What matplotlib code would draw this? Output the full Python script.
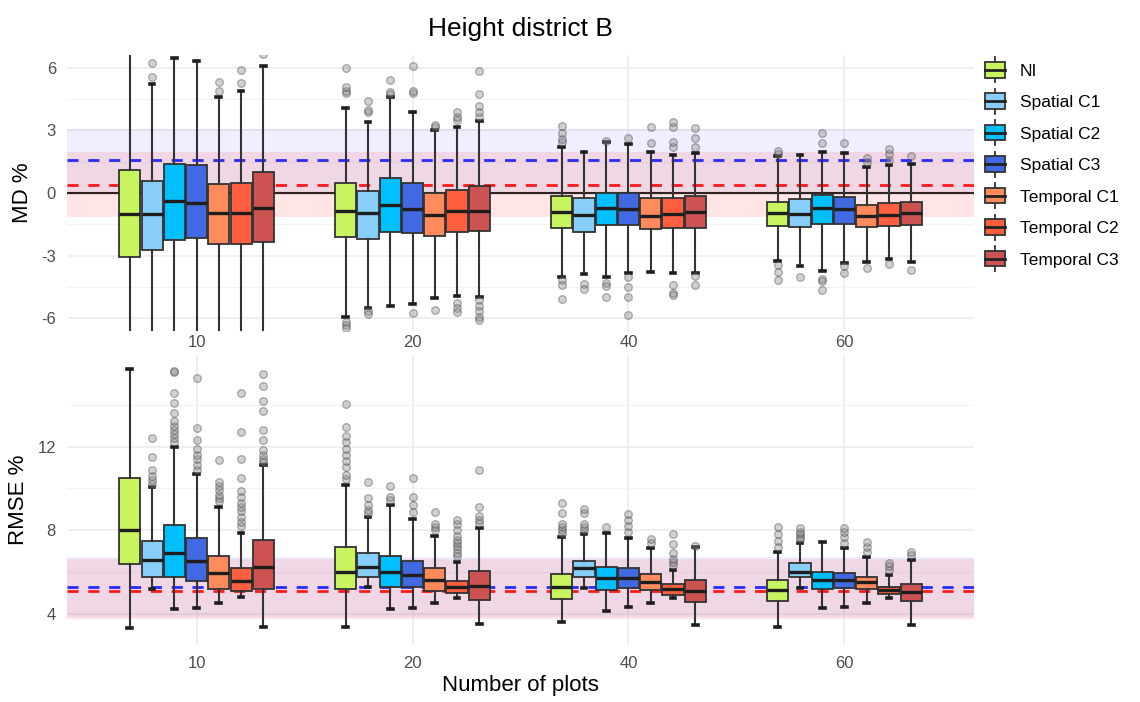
import matplotlib.pyplot as plt
from matplotlib.legend_handler import HandlerBase
from matplotlib.patches import Rectangle, Patch
from matplotlib.lines import Line2D

plt.rcParams['font.family'] = ['Liberation Sans', 'DejaVu Sans']
plt.rcParams['axes.unicode_minus'] = False

groups = ["10", "20", "40", "60"]
methods = ["NI", "Spatial C1", "Spatial C2", "Spatial C3",
           "Temporal C1", "Temporal C2", "Temporal C3"]
colors = ["#C8F55F", "#87CEFA", "#00BFFF", "#4169E1",
          "#FF8A5B", "#FF5F3F", "#CD5352"]

# ---- MD % (top panel): one row per group, one value per method
md_q3 = [[1.1, 0.57, 1.39, 1.34, 0.43, 0.48, 1.0],
         [0.48, 0.1, 0.72, 0.48, 0.0, 0.14, 0.33],
         [-0.14, -0.24, 0.0, 0.0, -0.24, -0.24, -0.14],
         [-0.43, -0.29, -0.1, -0.19, -0.57, -0.48, -0.43]]
md_med = [[-1.0, -1.0, -0.38, -0.48, -0.96, -0.96, -0.72],
          [-0.86, -0.96, -0.57, -0.77, -1.05, -0.86, -0.86],
          [-0.9, -1.05, -0.72, -0.77, -1.1, -1.0, -0.9],
          [-0.96, -1.0, -0.72, -0.77, -1.1, -1.05, -0.96]]
md_q1 = [[-3.06, -2.73, -2.25, -2.15, -2.44, -2.44, -2.34],
         [-2.1, -2.2, -1.87, -1.9, -2.06, -1.87, -1.82],
         [-1.67, -1.87, -1.53, -1.53, -1.72, -1.67, -1.67],
         [-1.58, -1.63, -1.48, -1.48, -1.63, -1.58, -1.53]]
md_hi = [[7.5, 5.2, 6.45, 6.3, 4.6, 4.9, 6.1],
         [4.07, 3.4, 4.6, 3.9, 3.0, 3.16, 3.44],
         [2.2, 1.96, 2.45, 2.34, 1.96, 1.82, 1.9],
         [1.77, 1.82, 1.96, 1.91, 1.24, 1.34, 1.39]]
md_lo = [[-7.5, -7.5, -7.5, -7.5, -7.5, -7.5, -7.5],
         [-5.93, -5.5, -5.4, -5.3, -5.02, -4.93, -4.98],
         [-4.0, -3.88, -4.0, -3.84, -3.78, -3.84, -3.84],
         [-3.25, -3.5, -3.73, -3.35, -3.3, -3.16, -3.3]]
md_out = [
    [[], [5.55, 6.2], [], [], [4.9, 5.3], [5.25, 5.9], [6.65]],
    [[4.8, 4.9, 5.07, 6.0, -6.17, -6.3, -6.45], [3.9, 3.97, 4.4, -5.65, -5.8],
     [4.75, 4.83, 5.4], [4.8, 4.9, 6.1, -5.75], [3.15, 3.25, -5.6],
     [3.5, 3.65, 3.88, -5.26, -5.5, -5.7],
     [3.65, 3.9, 4.15, 4.73, 5.85, -5.1, -5.4, -5.65, -5.93, -6.08]],
    [[2.45, 2.6, 2.87, 3.2, -4.16, -4.4, -5.07], [-4.35, -4.6],
     [2.5, -4.3, -4.45, -4.98], [2.62, -4.0, -4.5, -4.98, -5.84], [2.39, 3.16],
     [2.2, 2.45, 3.16, 3.4, -4.4, -4.78, -4.9], [2.2, 2.63, 3.1, -3.97, -4.4]],
    [[1.85, 2.0, -3.44, -3.78, -4.16], [-4.0], [2.4, 2.87, -4.1, -4.2, -4.64],
     [2.39, -3.5, -3.84], [1.48, 1.7, -3.6], [1.58, 1.87, 2.1, -3.4], [1.77, -3.68]],
]
md_blue_mean, md_blue_band = 1.6, (0.1, 3.05)
md_red_mean, md_red_band = 0.4, (-1.15, 1.95)

# ---- RMSE % (bottom panel)
rmse_q3 = [[10.47, 7.5, 8.26, 7.64, 6.78, 6.2, 7.55],
           [7.2, 6.92, 6.78, 6.54, 6.2, 5.58, 6.06],
           [5.92, 6.54, 6.25, 6.2, 5.92, 5.44, 5.63],
           [5.63, 6.44, 6.0, 5.96, 5.77, 5.29, 5.44]]
rmse_med = [[8.02, 6.59, 6.92, 6.54, 5.96, 5.58, 6.25],
            [6.0, 6.25, 6.0, 5.87, 5.63, 5.29, 5.34],
            [5.29, 6.2, 5.72, 5.72, 5.53, 5.2, 5.1],
            [5.15, 6.0, 5.63, 5.63, 5.53, 5.15, 5.05]]
rmse_q1 = [[6.39, 5.77, 5.77, 5.58, 5.2, 5.1, 5.2],
           [5.2, 5.77, 5.29, 5.29, 5.1, 5.0, 4.67],
           [4.71, 5.77, 5.15, 5.24, 5.15, 4.91, 4.57],
           [4.62, 5.77, 5.19, 5.24, 5.19, 4.95, 4.62]]
rmse_hi = [[15.7, 10.04, 12.0, 10.7, 9.13, 7.88, 11.1],
           [10.18, 8.65, 9.2, 8.55, 7.7, 6.49, 8.12],
           [7.68, 7.83, 7.88, 7.64, 7.16, 6.1, 7.2],
           [6.97, 7.4, 7.45, 7.16, 6.73, 5.87, 6.58]]
rmse_lo = [[3.32, 5.2, 4.24, 4.28, 4.52, 4.82, 3.37],
           [3.37, 5.3, 4.24, 4.28, 4.52, 4.76, 3.52],
           [3.61, 5.24, 4.14, 4.33, 4.52, 4.76, 3.47],
           [3.37, 5.24, 4.28, 4.33, 4.52, 4.76, 3.47]]
rmse_out = [
    [[], [10.2, 10.4, 10.6, 10.9, 11.5, 12.4],
     [12.2, 12.4, 12.6, 12.8, 13.0, 13.2, 13.6, 14.1, 14.55, 15.55, 15.6],
     [10.9, 11.1, 11.4, 11.6, 11.87, 12.3, 12.9, 15.3],
     [9.4, 9.55, 9.7, 9.9, 10.1, 10.3, 11.35],
     [8.2, 8.4, 8.65, 8.9, 9.1, 9.3, 9.6, 9.85, 10.5, 11.4, 12.7, 14.55],
     [11.25, 11.4, 11.6, 11.85, 12.3, 12.8, 13.7, 14.2, 14.9, 15.45]],
    [[10.45, 10.65, 11.0, 11.3, 11.6, 11.9, 12.2, 12.5, 12.95, 14.05],
     [8.8, 8.95, 9.2, 9.56, 10.28], [9.45, 9.6, 10.1],
     [8.85, 9.2, 9.6, 10.5], [8.0, 8.15, 8.3, 8.85],
     [6.75, 6.9, 7.1, 7.25, 7.4, 7.55, 7.7, 8.0, 8.3, 8.5],
     [8.35, 8.5, 8.7, 9.13, 10.9]],
    [[7.85, 8.0, 8.15, 8.3, 8.8, 9.3], [8.0, 8.15, 8.3, 8.8, 9.03], [8.17],
     [7.9, 8.2, 8.5, 8.75], [7.4, 7.6], [6.35, 6.5, 6.6, 6.9, 7.35, 7.8], [7.25]],
    [[7.2, 7.5, 7.8, 8.17], [7.6, 7.68, 7.8, 7.9, 8.12], [],
     [7.4, 7.65, 7.9, 8.1], [6.97, 7.2, 7.45], [6.1, 6.3, 6.45], [6.8, 6.97]],
]
rmse_blue_mean, rmse_blue_band = 5.3, (3.85, 6.7)
rmse_red_mean, rmse_red_band = 5.1, (3.75, 6.6)

EDGE = "#333333"
step = 0.103


def draw_panel(ax, q1, med, q3, lo, hi, out, blue, red):
    # reference bands and mean lines
    ax.axhspan(*blue[1], color="#3b3bff", alpha=0.08, lw=0, zorder=1)
    ax.axhspan(*red[1], color="#ff3030", alpha=0.12, lw=0, zorder=1)
    ax.axhline(blue[0], color="#2a2aff", lw=2, ls=(0, (4, 3.5)), zorder=2)
    ax.axhline(red[0], color="#ff1a1a", lw=2, ls=(0, (4, 3.5)), zorder=2)
    for g in range(len(groups)):
        for m in range(len(methods)):
            st = dict(med=med[g][m], q1=q1[g][m], q3=q3[g][m],
                      whislo=lo[g][m], whishi=hi[g][m], fliers=out[g][m])
            pos = g + 1 + (m - 3) * step
            ax.bxp([st], positions=[pos], widths=0.098, capwidths=0.022,
                   patch_artist=True, manage_ticks=False, zorder=3,
                   boxprops=dict(facecolor=colors[m], edgecolor=EDGE, lw=1.3),
                   medianprops=dict(color="#1e1e1e", lw=2.4),
                   whiskerprops=dict(color=EDGE, lw=1.5),
                   capprops=dict(color="#1e1e1e", lw=2.6),
                   flierprops=dict(marker="o", markersize=5.5, markerfacecolor="#8c8c8c",
                                   markeredgecolor="#3c3c3c", markeredgewidth=0.9, alpha=0.4))
    ax.set_xlim(0.4, 4.6)
    ax.set_xticks(range(1, len(groups) + 1), groups)
    for s in ax.spines.values():
        s.set_visible(False)
    ax.tick_params(which="both", length=0, labelsize=12, colors="#4d4d4d")
    ax.tick_params(axis="y", pad=8)
    ax.grid(which="major", color="#ebebeb", lw=1.1, zorder=0)
    ax.grid(which="minor", axis="y", color="#f2f2f2", lw=0.7, zorder=0)
    ax.set_axisbelow(True)


fig = plt.figure(figsize=(11.4, 7.02), dpi=100)
ax1 = fig.add_axes([0.0588, 0.5285, 0.7956, 0.393])
ax2 = fig.add_axes([0.0588, 0.081, 0.7956, 0.414])

draw_panel(ax1, md_q1, md_med, md_q3, md_lo, md_hi, md_out,
           (md_blue_mean, md_blue_band), (md_red_mean, md_red_band))
ax1.axhline(0, color="#2e2222", lw=1.6, zorder=2)
ax1.set_ylim(-6.6, 6.6)
ax1.set_yticks([-6, -3, 0, 3, 6])
ax1.set_yticks([-4.5, -1.5, 1.5, 4.5], minor=True)
ax1.tick_params(axis="x", pad=3)
ax1.set_ylabel("MD %", fontsize=16, labelpad=6)
ax1.set_title("Height district B", fontsize=19, pad=14)

draw_panel(ax2, rmse_q1, rmse_med, rmse_q3, rmse_lo, rmse_hi, rmse_out,
           (rmse_blue_mean, rmse_blue_band), (rmse_red_mean, rmse_red_band))
ax2.set_ylim(2.5, 16.4)
ax2.set_yticks([4, 8, 12])
ax2.set_yticks([6, 10, 14], minor=True)
ax2.tick_params(axis="x", pad=8)
ax2.set_ylabel("RMSE %", fontsize=16, labelpad=6)
ax2.set_xlabel("Number of plots", fontsize=16, labelpad=3)


class BoxKey(HandlerBase):
    def create_artists(self, legend, orig_handle, xdescent, ydescent,
                       width, height, fontsize, trans):
        x0, y0 = -xdescent, -ydescent
        xm = x0 + width / 2
        whisk = Line2D([xm, xm], [y0 - 0.3 * height, y0 + 1.3 * height],
                       color=EDGE, lw=1.3, transform=trans)
        box = Rectangle((x0, y0), width, height, facecolor=orig_handle.get_facecolor(),
                        edgecolor=EDGE, lw=1.3, transform=trans)
        mid = Line2D([x0, x0 + width], [y0 + height / 2] * 2,
                     color="#222222", lw=2, transform=trans)
        return [whisk, box, mid]


handles = [Patch(facecolor=c) for c in colors]
fig.legend(handles, methods, handler_map={Patch: BoxKey()},
           loc="upper left", bbox_to_anchor=(985 / 1140, 1 - 62 / 702),
           frameon=False, fontsize=12.5, handlelength=1.15, handleheight=1.0,
           handletextpad=0.85, labelspacing=0.85, borderpad=0, borderaxespad=0)

fig.savefig("out.png", dpi=100)
